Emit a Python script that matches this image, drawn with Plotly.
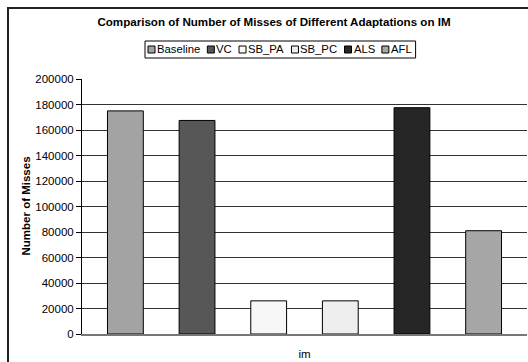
import plotly.graph_objects as go

categories = ["im"]
series_names = ["Baseline", "VC", "SB_PA", "SB_PC", "ALS", "AFL"]
baseline = [175000]
vc = [167500]
sb_pa = [26000]
sb_pc = [26000]
als = [177500]
afl = [81000]
y_ticks = [0, 20000, 40000, 60000, 80000, 100000, 120000, 140000, 160000, 180000, 200000]

series_values = [baseline, vc, sb_pa, sb_pc, als, afl]
colors = ["#a3a3a3", "#575757", "#f7f7f7", "#eeeeee", "#262626", "#a6a6a6"]

W, H = 528, 362
ML, MR, MT, MB = 82, 1, 79, 28
PW, PH = W - ML - MR, H - MT - MB
FONT = "Liberation Sans, Arial, sans-serif"

# approximate Helvetica/Liberation Sans glyph widths (em) for legend layout
GW = {"B": .667, "a": .556, "s": .5, "e": .556, "l": .222, "i": .222, "n": .556,
      "V": .667, "C": .722, "S": .667, "_": .556, "P": .667, "A": .667, "L": .556, "F": .611}


def px(x):
    return (x - ML) / PW


def py(y):
    return (H - MB - y) / PH


fig = go.Figure()
for name, vals, col in zip(series_names, series_values, colors):
    fig.add_trace(go.Bar(
        x=categories, y=vals, name=name,
        marker=dict(color=col, line=dict(color="#000000", width=1)),
        showlegend=False,
    ))

shapes = []
annotations = []

# outer chart border (cropped on right/bottom)
shapes.append(dict(type="line", xref="paper", yref="paper",
                   x0=px(8), x1=px(8), y0=py(7), y1=py(400),
                   line=dict(color="#222222", width=2)))
shapes.append(dict(type="line", xref="paper", yref="paper",
                   x0=px(7), x1=px(560), y0=py(8), y1=py(8),
                   line=dict(color="#222222", width=2)))

# legend (drawn manually to match the compact spreadsheet legend)
LF = 11.3
LEG_TOP, LEG_BOT = 41, 58
LEG_L = 145
cx = LEG_L + 3
for name, col in zip(series_names, colors):
    shapes.append(dict(type="rect", xref="paper", yref="paper",
                       x0=px(cx), x1=px(cx + 7), y0=py(46), y1=py(53),
                       line=dict(color="#000000", width=1), fillcolor=col))
    annotations.append(dict(text=name, xref="paper", yref="paper",
                            x=px(cx + 9), y=py(49.5), xanchor="left", yanchor="middle",
                            showarrow=False, borderpad=0, borderwidth=0,
                            font=dict(family=FONT, size=LF, color="#000000")))
    cx += 7 + 2.5 + sum(GW[c] for c in name) * LF + 6.5
shapes.insert(0, dict(type="rect", xref="paper", yref="paper",
                      x0=px(LEG_L), x1=px(cx - 3), y0=py(LEG_TOP), y1=py(LEG_BOT),
                      line=dict(color="#000000", width=1), fillcolor="white"))

# y-axis title
annotations.append(dict(text="<b>Number of Misses</b>", xref="paper", yref="paper",
                        x=px(25), y=0.5, xanchor="center", yanchor="middle",
                        textangle=-90, showarrow=False,
                        font=dict(family=FONT, size=11.5, color="#000000")))

fig.update_layout(
    width=W, height=H,
    margin=dict(l=ML, r=MR, t=MT, b=MB),
    paper_bgcolor="white", plot_bgcolor="white",
    barmode="group", bargap=0.034, bargroupgap=0.5,
    title=dict(text="<b>Comparison of Number of Misses of Different Adaptations on IM</b>",
               x=px(274), xref="paper", xanchor="center", y=1 - 22 / H, yanchor="middle",
               font=dict(family=FONT, size=11.6, color="#000000")),
    font=dict(family=FONT, size=11.5, color="#000000"),
    shapes=shapes, annotations=annotations,
    showlegend=False,
)
fig.update_yaxes(
    range=[0, 200000], tickvals=y_ticks, ticktext=[str(v) for v in y_ticks],
    showgrid=True, gridcolor="#333333", gridwidth=1,
    ticks="outside", ticklen=5, tickcolor="#000000",
    showline=True, linecolor="#000000", linewidth=1,
    zeroline=False,
)
fig.update_xaxes(
    showline=True, linecolor="#777777", linewidth=2,
    ticks="", ticklabelstandoff=8,
    tickfont=dict(family=FONT, size=11.5),
)

fig.write_html("out.html", config={"displayModeBar": False},
               post_script="document.body.style.margin='0';")
